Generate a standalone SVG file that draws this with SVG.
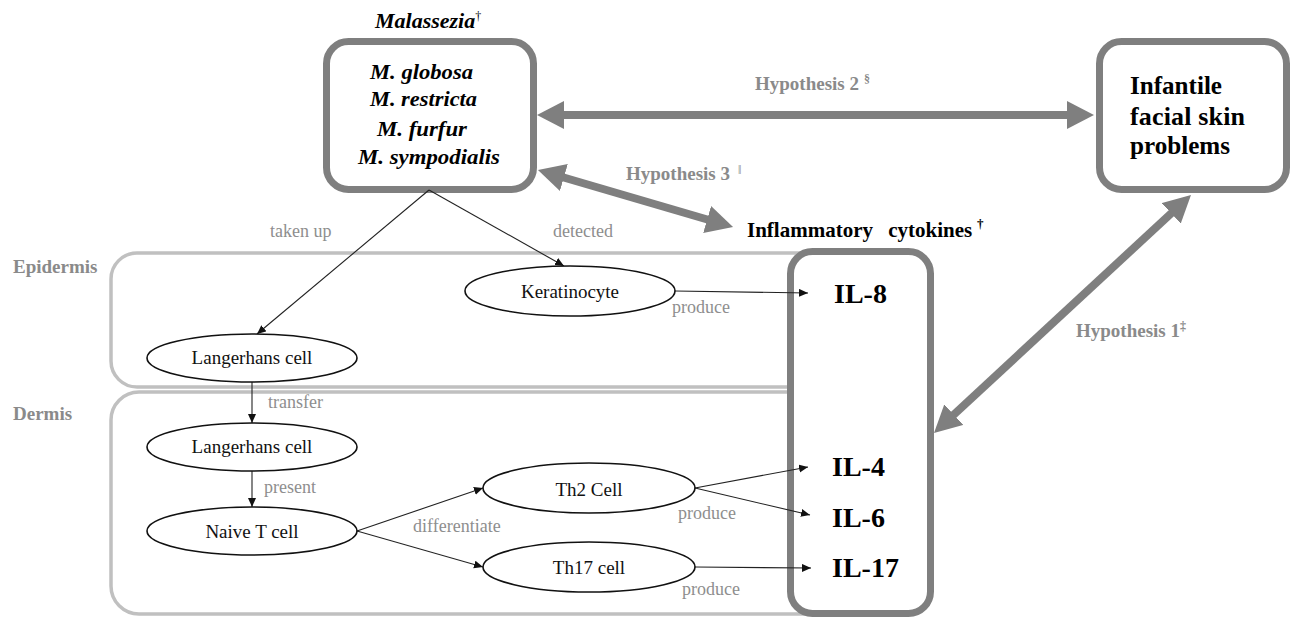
<svg xmlns="http://www.w3.org/2000/svg" width="1293" height="620" viewBox="0 0 1293 620">
<style>
.bi{font-weight:bold;font-style:italic;font-size:22px;fill:#000}
.b{font-weight:bold;fill:#000}
.hyp{font-weight:bold;font-size:19px;fill:#8a8a8a}
.zone{font-weight:bold;font-size:19px;fill:#8a8a8a}
.lbl{font-size:18px;fill:#8e8e8e}
.cell{font-size:19px;fill:#111;text-anchor:middle}
.il{font-weight:bold;font-size:28px;fill:#000}
.sup{font-size:12px}
.zonebox{fill:none;stroke:#c0c0c0;stroke-width:3.5}
.bigbox{fill:#fff;stroke:#7f7f7f;stroke-width:7}
.node{fill:#fff;stroke:#111;stroke-width:1.6}
.thick{stroke:#7f7f7f;stroke-width:8;fill:none;marker-start:url(#bigHead);marker-end:url(#bigHead)}
.thin{stroke:#222;stroke-width:1.1;fill:none;marker-end:url(#smallHead)}
</style>
<defs>
<marker id="bigHead" markerUnits="userSpaceOnUse" markerWidth="28" markerHeight="28" refX="18" refY="14" orient="auto-start-reverse">
<path d="M0,0 L27,14 L0,28 z" fill="#7f7f7f"/>
</marker>
<marker id="smallHead" markerUnits="userSpaceOnUse" markerWidth="10" markerHeight="9" refX="9" refY="4" orient="auto">
<path d="M0,0 L9,4 L0,8 z" fill="#111"/>
</marker>
</defs>
<rect width="1293" height="620" fill="#fff"/>

<g id="zones" font-family="Liberation Serif, DejaVu Serif, serif">
<rect id="epidermis" class="zonebox" x="111" y="253" width="750" height="134" rx="26"/>
<rect id="dermis" class="zonebox" x="111" y="392" width="750" height="222" rx="28"/>
<text class="zone" font-family="Liberation Serif, DejaVu Serif, serif" x="13" y="273">Epidermis</text>
<text class="zone" font-family="Liberation Serif, DejaVu Serif, serif" x="13" y="420">Dermis</text>
</g>

<g id="malassezia" font-family="Liberation Serif, DejaVu Serif, serif">
<rect class="bigbox" x="326.5" y="41.5" width="207" height="148" rx="22"/>
<text class="bi" font-family="Liberation Serif, DejaVu Serif, serif" x="375" y="28" font-size="21">Malassezia<tspan class="sup" dy="-8" font-style="normal" font-weight="normal">†</tspan></text>
<text class="bi" font-family="Liberation Serif, DejaVu Serif, serif" x="370" y="79" textLength="103" lengthAdjust="spacingAndGlyphs">M. globosa</text>
<text class="bi" font-family="Liberation Serif, DejaVu Serif, serif" x="370" y="106" textLength="107" lengthAdjust="spacingAndGlyphs">M. restricta</text>
<text class="bi" font-family="Liberation Serif, DejaVu Serif, serif" x="377" y="136" textLength="90" lengthAdjust="spacingAndGlyphs">M. furfur</text>
<text class="bi" font-family="Liberation Serif, DejaVu Serif, serif" x="358" y="164" textLength="142" lengthAdjust="spacingAndGlyphs">M. sympodialis</text>
</g>

<g id="infantile" font-family="Liberation Serif, DejaVu Serif, serif">
<rect class="bigbox" x="1099.5" y="41.5" width="187" height="148" rx="22"/>
<text class="b" font-family="Liberation Serif, DejaVu Serif, serif" x="1130" y="94" font-size="26" textLength="92" lengthAdjust="spacingAndGlyphs">Infantile</text>
<text class="b" font-family="Liberation Serif, DejaVu Serif, serif" x="1130" y="125" font-size="26" textLength="115" lengthAdjust="spacing">facial skin</text>
<text class="b" font-family="Liberation Serif, DejaVu Serif, serif" x="1130" y="154" font-size="26" textLength="100" lengthAdjust="spacingAndGlyphs">problems</text>
</g>

<g id="cytokines" font-family="Liberation Serif, DejaVu Serif, serif">
<rect class="bigbox" x="790.5" y="251.5" width="140" height="362" rx="22"/>
<text class="b" font-family="Liberation Serif, DejaVu Serif, serif" x="747" y="237" font-size="21" word-spacing="10">Inflammatory cytokines</text>
<text class="b" font-family="Liberation Serif, DejaVu Serif, serif" x="977" y="228" font-size="13">†</text>
<text class="il" font-family="Liberation Serif, DejaVu Serif, serif" x="834" y="303">IL-8</text>
<text class="il" font-family="Liberation Serif, DejaVu Serif, serif" x="832" y="476">IL-4</text>
<text class="il" font-family="Liberation Serif, DejaVu Serif, serif" x="832" y="527">IL-6</text>
<text class="il" font-family="Liberation Serif, DejaVu Serif, serif" x="832" y="577">IL-17</text>
</g>

<g id="connectors" font-family="Liberation Serif, DejaVu Serif, serif">
<line class="thick" x1="546" y1="115" x2="1085" y2="115"/>
<line class="thick" x1="546.6" y1="172.5" x2="724.4" y2="224.5"/>
<line class="thick" x1="940.6" y1="426.9" x2="1184.4" y2="201.1"/>
<line class="thin" x1="429" y1="190" x2="257" y2="334"/>
<line class="thin" x1="429" y1="190" x2="564" y2="266"/>
<line class="thin" x1="675" y1="291" x2="808" y2="293"/>
<line class="thin" x1="252" y1="382" x2="252" y2="423"/>
<line class="thin" x1="252" y1="471" x2="252" y2="507"/>
<line class="thin" x1="357" y1="531" x2="483" y2="488"/>
<line class="thin" x1="357" y1="531" x2="483" y2="567"/>
<line class="thin" x1="695" y1="488" x2="808" y2="467"/>
<line class="thin" x1="695" y1="488" x2="810" y2="515"/>
<line class="thin" x1="695" y1="567" x2="811" y2="568"/>
<text class="hyp" font-family="Liberation Serif, DejaVu Serif, serif" x="755" y="90">Hypothesis 2<tspan class="sup" x="864" dy="-7">§</tspan></text>
<text class="hyp" font-family="Liberation Serif, DejaVu Serif, serif" x="626" y="180">Hypothesis 3<tspan class="sup" x="738" dy="-6" font-weight="normal">‖</tspan></text>
<text class="hyp" font-family="Liberation Serif, DejaVu Serif, serif" x="1076" y="337">Hypothesis 1<tspan class="sup" dy="-7">‡</tspan></text>
<text class="lbl" font-family="Liberation Serif, DejaVu Serif, serif" x="270" y="237">taken up</text>
<text class="lbl" font-family="Liberation Serif, DejaVu Serif, serif" x="553" y="237">detected</text>
<text class="lbl" font-family="Liberation Serif, DejaVu Serif, serif" x="672" y="313">produce</text>
<text class="lbl" font-family="Liberation Serif, DejaVu Serif, serif" x="268" y="408">transfer</text>
<text class="lbl" font-family="Liberation Serif, DejaVu Serif, serif" x="264" y="493">present</text>
<text class="lbl" font-family="Liberation Serif, DejaVu Serif, serif" x="413" y="532">differentiate</text>
<text class="lbl" font-family="Liberation Serif, DejaVu Serif, serif" x="678" y="519">produce</text>
<text class="lbl" font-family="Liberation Serif, DejaVu Serif, serif" x="682" y="595">produce</text>
</g>

<g id="keratinocyte" font-family="Liberation Serif, DejaVu Serif, serif">
<ellipse class="node" cx="570" cy="291" rx="105" ry="25"/>
<text class="cell" font-family="Liberation Serif, DejaVu Serif, serif" x="570" y="298">Keratinocyte</text>
</g>
<g id="langerhans-epidermis" font-family="Liberation Serif, DejaVu Serif, serif">
<ellipse class="node" cx="252" cy="358" rx="105" ry="24"/>
<text class="cell" font-family="Liberation Serif, DejaVu Serif, serif" x="252" y="364">Langerhans cell</text>
</g>
<g id="langerhans-dermis" font-family="Liberation Serif, DejaVu Serif, serif">
<ellipse class="node" cx="252" cy="447" rx="105" ry="24"/>
<text class="cell" font-family="Liberation Serif, DejaVu Serif, serif" x="252" y="453">Langerhans cell</text>
</g>
<g id="naive-t" font-family="Liberation Serif, DejaVu Serif, serif">
<ellipse class="node" cx="252" cy="531" rx="105" ry="24"/>
<text class="cell" font-family="Liberation Serif, DejaVu Serif, serif" x="252" y="538">Naive T cell</text>
</g>
<g id="th2" font-family="Liberation Serif, DejaVu Serif, serif">
<ellipse class="node" cx="589" cy="488" rx="106" ry="25"/>
<text class="cell" font-family="Liberation Serif, DejaVu Serif, serif" x="589" y="496">Th2 Cell</text>
</g>
<g id="th17" font-family="Liberation Serif, DejaVu Serif, serif">
<ellipse class="node" cx="589" cy="567" rx="106" ry="25"/>
<text class="cell" font-family="Liberation Serif, DejaVu Serif, serif" x="589" y="574">Th17 cell</text>
</g>
</svg>
